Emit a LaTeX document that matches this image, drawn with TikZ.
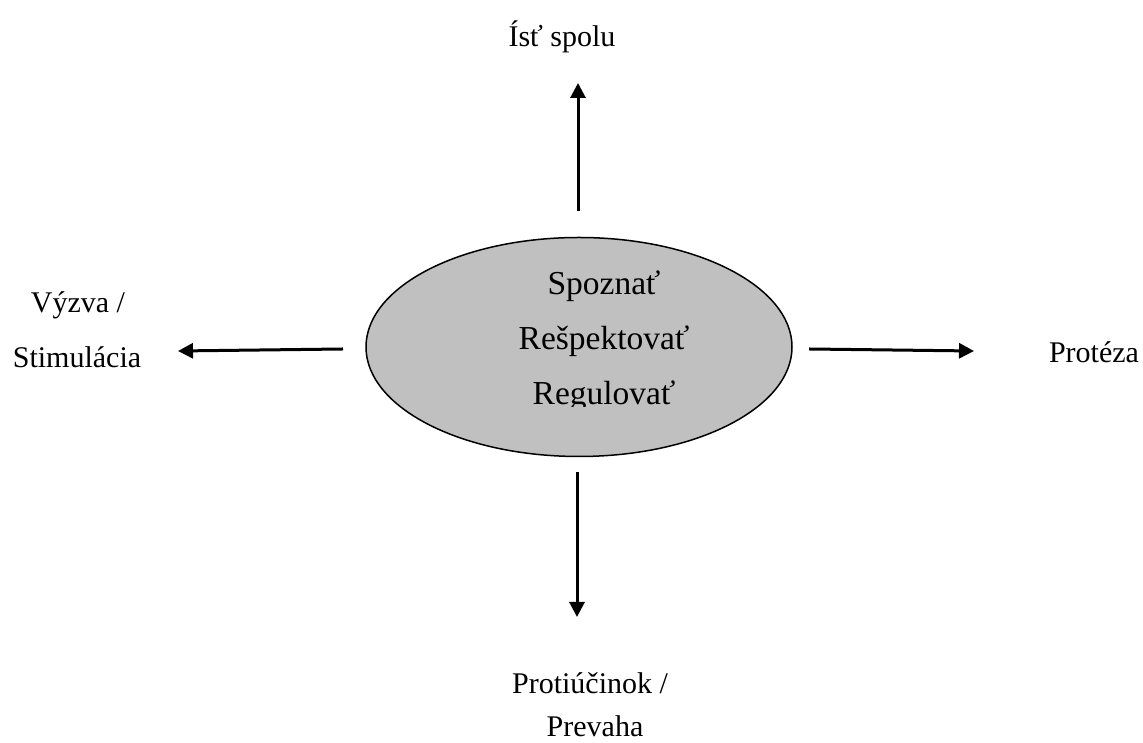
\documentclass[tikz,border=0pt]{standalone}
\usepackage{fontspec}
\setmainfont{Liberation Serif}
\usetikzlibrary{arrows.meta,shapes.geometric}
\definecolor{ellgray}{RGB}{192,192,192}
\begin{document}
\begin{tikzpicture}[x=1pt,y=1pt,
  lbl/.style={font=\fontsize{30}{36}\selectfont, anchor=base, inner sep=0pt},
  inlbl/.style={font=\fontsize{33.5}{40}\selectfont, anchor=base, inner sep=0pt},
  arr/.style={line width=3pt, -{Triangle[length=15pt,width=15pt]}}]
\useasboundingbox (0,0) rectangle (1143,743);
% central ellipse
\node[ellipse, draw, line width=1.5pt, fill=ellgray, minimum width=426pt, minimum height=219pt, inner sep=0pt] (ell) at (579,396) {};
\node[inlbl] (t1) at (604,448) {Spoznať};
\node[inlbl] (t2) at (604,393) {Rešpektovať};
\begin{scope}
  \clip (400,336) rectangle (800,400);
  \node[inlbl] (t3) at (604,338) {Regulovať};
\end{scope}
% labels
\node[lbl] (up) at (562,696) {Ísť spolu};
\node[lbl] (left1) at (78,430) {Výzva /};
\node[lbl] (left2) at (77,375) {Stimulácia};
\node[lbl] (right) at (1094,380) {Protéza};
\node[lbl] (down1) at (590,49) {Protiúčinok /};
\node[lbl] (down2) at (595,6) {Prevaha};
% arrow ends
\coordinate (us) at (578,532);
\coordinate (ue) at (578,660);
\coordinate (ls) at (343,394);
\coordinate (le) at (178,392);
\coordinate (rs) at (809,394);
\coordinate (re) at (974,392);
\coordinate (ds) at (577,271);
\coordinate (de) at (577,126);
\draw[arr] (us) -- (ue);
\draw[arr] (ls) -- (le);
\draw[arr] (rs) -- (re);
\draw[arr] (ds) -- (de);
\end{tikzpicture}
\end{document}
